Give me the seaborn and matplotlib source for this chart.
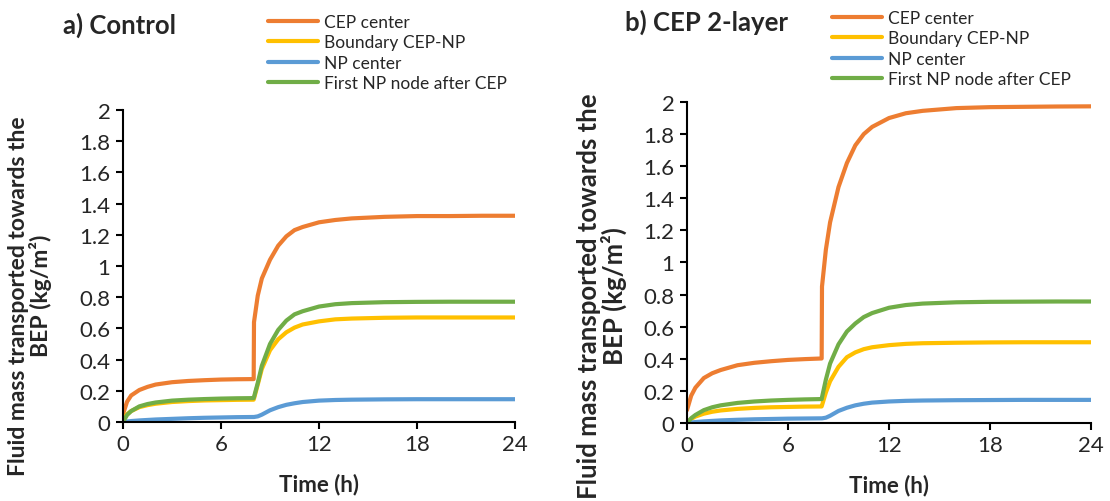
import seaborn as sns
import matplotlib.pyplot as plt

# tiempo (h) y masa de fluido (kg/m2)
time_h = [0, 0.25, 0.5, 1, 1.5, 2, 3, 4, 5, 6, 7, 8, 8.02, 8.25, 8.5, 9, 9.5,
          10, 10.5, 11, 12, 13, 14, 16, 18, 20, 22, 24]

series_names = ['CEP center', 'Boundary CEP-NP', 'NP center', 'First NP node after CEP']
series_colors = ['#ED7D31', '#FFC000', '#5B9BD5', '#70AD47']

ctrl_cep = [0.05, 0.13, 0.17, 0.205, 0.225, 0.24, 0.255, 0.263, 0.268, 0.272, 0.274, 0.275,
            0.64, 0.81, 0.92, 1.04, 1.13, 1.19, 1.23, 1.25, 1.28, 1.295, 1.305, 1.315,
            1.32, 1.32, 1.322, 1.322]
ctrl_bound = [0.02, 0.05, 0.07, 0.095, 0.108, 0.117, 0.128, 0.134, 0.138, 0.14, 0.142, 0.143,
              0.15, 0.24, 0.34, 0.46, 0.53, 0.575, 0.605, 0.625, 0.645, 0.658, 0.663, 0.668,
              0.67, 0.67, 0.67, 0.67]
ctrl_np = [0, 0.003, 0.006, 0.01, 0.013, 0.016, 0.02, 0.024, 0.027, 0.029, 0.031, 0.032,
           0.032, 0.036, 0.047, 0.075, 0.095, 0.11, 0.12, 0.128, 0.137, 0.141, 0.143, 0.145,
           0.146, 0.146, 0.146, 0.146]
ctrl_first = [0, 0.045, 0.07, 0.1, 0.115, 0.125, 0.137, 0.143, 0.147, 0.15, 0.152, 0.153,
              0.16, 0.25, 0.36, 0.5, 0.59, 0.65, 0.69, 0.71, 0.74, 0.755, 0.762, 0.768,
              0.77, 0.771, 0.771, 0.771]

two_cep = [0.08, 0.17, 0.22, 0.28, 0.31, 0.33, 0.36, 0.375, 0.385, 0.393, 0.398, 0.402,
           0.85, 1.08, 1.25, 1.47, 1.62, 1.73, 1.8, 1.845, 1.9, 1.93, 1.945, 1.962,
           1.968, 1.97, 1.972, 1.973]
two_bound = [0, 0.025, 0.04, 0.058, 0.07, 0.078, 0.088, 0.094, 0.098, 0.1, 0.102, 0.103,
             0.11, 0.19, 0.26, 0.35, 0.41, 0.44, 0.46, 0.472, 0.485, 0.493, 0.497, 0.5,
             0.502, 0.503, 0.503, 0.503]
two_np = [0, 0.003, 0.006, 0.01, 0.013, 0.016, 0.02, 0.023, 0.025, 0.027, 0.028, 0.029,
          0.029, 0.033, 0.045, 0.075, 0.095, 0.11, 0.12, 0.127, 0.134, 0.138, 0.14, 0.142,
          0.143, 0.144, 0.144, 0.144]
two_first = [0, 0.03, 0.05, 0.08, 0.098, 0.11, 0.125, 0.134, 0.14, 0.144, 0.147, 0.149,
             0.16, 0.27, 0.37, 0.49, 0.57, 0.62, 0.66, 0.685, 0.718, 0.735, 0.744, 0.752,
             0.755, 0.756, 0.757, 0.757]

x_ticks = [0, 6, 12, 18, 24]

sns.set_style('ticks')
plt.rcParams['font.family'] = ['Lato', 'DejaVu Sans']

fig = plt.figure(figsize=(11.1, 5.02), dpi=100)
ax1 = fig.add_axes([0.1108, 0.1574, 0.3532, 0.6215])
ax2 = fig.add_axes([0.6189, 0.1554, 0.3640, 0.6394])

panels = [
    (ax1, [ctrl_cep, ctrl_bound, ctrl_np, ctrl_first], 'a) Control', (63, 25), (0.2414, 0.97), 30, 16.5),
    (ax2, [two_cep, two_bound, two_np, two_first], 'b) CEP 2-layer', (625, 22), (0.7495, 0.978), 602, 18.5),
]

for ax, ys, title, tpos, legpos, ylx, ylsize in panels:
    for name, col, y in zip(series_names, series_colors, ys):
        sns.lineplot(x=time_h, y=y, color=col, lw=3, label=name, ax=ax,
                     estimator=None, sort=False)
    ax.set_xlim(0, 24)
    ax.set_ylim(0, 2)
    ax.set_xticks(x_ticks)
    ax.set_yticks([i / 5 for i in range(11)])
    ax.set_yticklabels(['0', '0.2', '0.4', '0.6', '0.8', '1', '1.2', '1.4', '1.6', '1.8', '2'])
    ax.tick_params(labelsize=16, length=5, width=1.5, direction='out', color='black', pad=4)
    for s in ['left', 'bottom']:
        ax.spines[s].set_linewidth(1.5)
        ax.spines[s].set_color('black')
    sns.despine(ax=ax)
    ax.set_xlabel('Time (h)', fontsize=16, fontweight='bold', labelpad=13)
    ax.set_ylabel('')
    ax.legend(loc='upper left', bbox_to_anchor=legpos, bbox_transform=fig.transFigure,
              frameon=False, fontsize=12.5, handlelength=2.9, labelspacing=0.25,
              handletextpad=0.3, borderpad=0, borderaxespad=0)
    fig.text(tpos[0] / 1110, 1 - tpos[1] / 502, title, fontsize=18.5, fontweight='bold',
             ha='left', va='center')
    fig.text(ylx / 1110, 1 - 296 / 502,
             'Fluid mass transported towards the\nBEP (kg/m²)',
             rotation=90, ha='center', va='center', multialignment='center',
             fontsize=ylsize, fontweight='bold', linespacing=1.0)

fig.savefig('out.png', dpi=100)
